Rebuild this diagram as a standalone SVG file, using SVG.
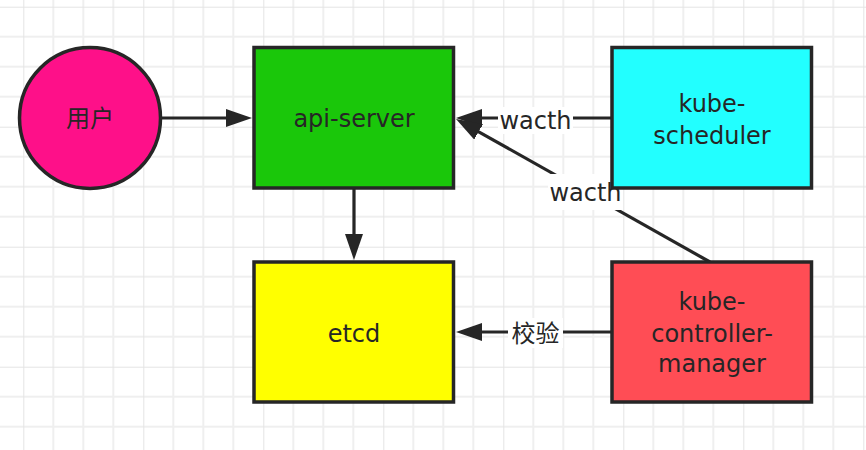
<svg xmlns="http://www.w3.org/2000/svg" width="866" height="450" viewBox="0 0 866 450">
<style>
.box{stroke:#262626;stroke-width:3.5}
.lbl{font-family:"DejaVu Sans","Noto Sans CJK SC",sans-serif;font-size:24px;fill:#262626;text-anchor:middle}
.cjk{font-family:"Noto Sans CJK SC",sans-serif;font-size:24px;fill:#262626;text-anchor:middle}
.conn{stroke:#262626;stroke-width:3.2;fill:none;marker-end:url(#arrow)}
.bg{fill:#ffffff}
</style>
<defs>
<pattern id="grid" patternUnits="userSpaceOnUse" x="23.3" y="6.7" width="120" height="120">
<path d="M30,0V120M60,0V120M90,0V120M0,30H120M0,60H120M0,90H120" stroke="#efefef" stroke-width="2"/>
<path d="M0,0V120M0,0H120" stroke="#e4e4e4" stroke-width="2"/>
</pattern>
<marker id="arrow" markerUnits="userSpaceOnUse" markerWidth="27" markerHeight="18" refX="6" refY="9" orient="auto" viewBox="0 0 27 18">
<path d="M0,0L26,9L0,18z" fill="#262626"/>
</marker>
</defs>
<rect width="866" height="450" fill="#ffffff"/>
<rect width="866" height="450" fill="url(#grid)"/>
<g id="connectors">
<path class="conn" d="M161,118H232"/>
<path class="conn" d="M354,188V240"/>
<path class="conn" d="M612,118H476"/>
<path class="conn" d="M710,262L473.4,128.8"/>
<path class="conn" d="M612,332H476"/>
<rect class="bg" x="498" y="107" width="75" height="27"/>
<text class="lbl" x="535.5" y="129">wacth</text>
<rect class="bg" x="548" y="174" width="75" height="36"/>
<text class="lbl" x="585.5" y="201">wacth</text>
<rect class="bg" x="508" y="318" width="55" height="30"/>
<text class="cjk" x="535.5" y="342">校验</text>
</g>
<g id="user">
<circle class="box" cx="90" cy="118" r="70.5" fill="#FE1089"/>
<text class="cjk" x="90" y="126.5">用户</text>
</g>
<g id="api-server">
<rect class="box" x="254" y="47.5" width="199.5" height="140.5" fill="#1AC70A"/>
<text class="lbl" x="354" y="127">api-server</text>
</g>
<g id="kube-scheduler">
<rect class="box" x="612" y="47.5" width="199.5" height="140.5" fill="#22FFFF"/>
<text class="lbl" x="712" y="112">kube-</text>
<text class="lbl" x="712" y="143.5">scheduler</text>
</g>
<g id="etcd">
<rect class="box" x="254" y="262" width="199.5" height="140" fill="#FFFF00"/>
<text class="lbl" x="354" y="341.5">etcd</text>
</g>
<g id="kube-controller-manager">
<rect class="box" x="612" y="262" width="199.5" height="140" fill="#FF4D55"/>
<text class="lbl" x="712" y="310">kube-</text>
<text class="lbl" x="712" y="341.5">controller-</text>
<text class="lbl" x="712" y="371.5">manager</text>
</g>
</svg>
